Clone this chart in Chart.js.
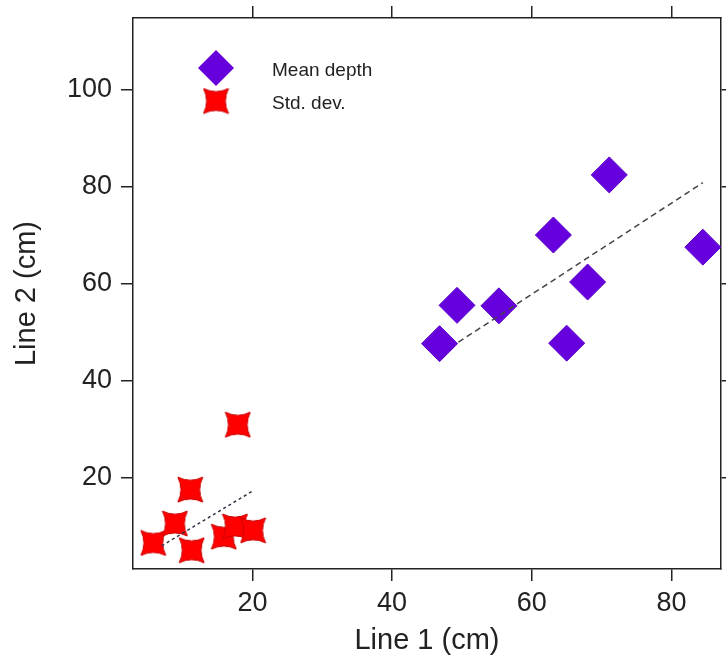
<!DOCTYPE html>
<html>
<head>
<meta charset="utf-8">
<title>Line 1 vs Line 2</title>
<script src="https://cdn.jsdelivr.net/npm/chart.js@4.4.0/dist/chart.umd.min.js"></script>
<style>
    body { margin: 0; background: #fff; }
    canvas { display: block; }
</style>
</head>
<body>
<canvas id="depth-scatter" width="726" height="659"></canvas>
<script>
// Mean depth (diamonds)
const meanX = [46.8, 49.3, 55.3, 63.1, 65.0, 68.0, 71.1, 84.5];
const meanY = [47.6, 55.5, 55.4, 70.0, 47.7, 60.3, 82.4, 67.5];

// Std. dev. (stars)
const stdX = [5.8, 8.9, 11.1, 11.3, 15.9, 17.5, 17.9, 20.1];
const stdY = [6.5, 10.5, 17.5, 5.0, 7.8, 9.9, 30.9, 9.1];

// fitted lines, end points
const meanFitX = [49.5, 84.5];
const meanFitY = [47.9, 80.8];
const stdFitX = [7.0, 19.9];
const stdFitY = [5.9, 17.1];

const xTicks = [20, 40, 60, 80];
const yTicks = [20, 40, 60, 80, 100];
const xRange = [2.9, 87.1];
const yRange = [1.13, 114.75];

const FONT = "'Liberation Sans', Arial, Helvetica, sans-serif";
const INK = "#222";

function toPoints(xs, ys) {
    return xs.map((x, i) => ({ x: x, y: ys[i] }));
}

// four-pointed star with concave sides
function makeStar(size, color) {
    const c = document.createElement("canvas");
    c.width = size + 2;
    c.height = size + 2;
    const ctx = c.getContext("2d");
    const m = c.width / 2;
    const h = size / 2;
    const k = h * 0.5;
    ctx.translate(m, m);
    ctx.beginPath();
    ctx.moveTo(-h, -h);
    ctx.quadraticCurveTo(0, -k, h, -h);
    ctx.quadraticCurveTo(k, 0, h, h);
    ctx.quadraticCurveTo(0, k, -h, h);
    ctx.quadraticCurveTo(-k, 0, -h, -h);
    ctx.closePath();
    ctx.fillStyle = color;
    ctx.fill();
    ctx.strokeStyle = "#c80000";
    ctx.lineWidth = 1;
    ctx.stroke();
    return c;
}

const star = makeStar(25, "#ff0000");

// legend drawn inside the plot, top left
const innerLegend = {
    id: "innerLegend",
    afterDatasetsDraw(chart) {
        const ctx = chart.ctx;
        const area = chart.chartArea;
        const x = area.left + 83;
        const rows = [
            { y: area.top + 50, label: "Mean depth", ds: chart.data.datasets[2] },
            { y: area.top + 83, label: "Std. dev.", ds: chart.data.datasets[3] }
        ];
        ctx.save();
        rows.forEach((r) => {
            ctx.fillStyle = r.ds.backgroundColor || "#000";
            Chart.helpers.drawPoint(ctx, {
                pointStyle: r.ds.pointStyle,
                radius: r.ds.pointRadius,
                rotation: 0,
                borderWidth: 0
            }, x, r.y);
            ctx.fillStyle = INK;
            ctx.font = "19px " + FONT;
            ctx.textAlign = "left";
            ctx.textBaseline = "middle";
            ctx.fillText(r.label, x + 56, r.y + 3);
        });
        ctx.restore();
    }
};

// fixed box sizes, no extra padding for labels near the ends
function pinSize(s, size) {
    if (s.isHorizontal()) s.height = size; else s.width = size;
    s.paddingTop = 0;
    s.paddingBottom = 0;
    s.paddingLeft = 0;
    s.paddingRight = 0;
}

function frameAxis(position, size) {
    const horizontal = position === "top";
    return {
        type: "linear",
        position: position,
        min: horizontal ? xRange[0] : yRange[0],
        max: horizontal ? xRange[1] : yRange[1],
        afterBuildTicks: (s) => {
            s.ticks = (horizontal ? xTicks : yTicks).map((v) => ({ value: v }));
        },
        afterFit: (s) => pinSize(s, size),
        ticks: { display: false },
        grid: { drawOnChartArea: false, drawTicks: true, tickLength: 12, tickColor: INK, lineWidth: 1.5 },
        border: { display: true, color: INK, width: 1.5 }
    };
}

new Chart(document.getElementById("depth-scatter"), {
    type: "scatter",
    data: {
        datasets: [
            {
                type: "line",
                label: "fit mean",
                data: toPoints(meanFitX, meanFitY),
                borderColor: "#444",
                borderWidth: 1.5,
                borderDash: [6, 4],
                pointRadius: 0,
                fill: false,
                order: 0
            },
            {
                type: "line",
                label: "fit std",
                data: toPoints(stdFitX, stdFitY),
                borderColor: "#334",
                borderWidth: 1.5,
                borderDash: [3, 3],
                pointRadius: 0,
                fill: false,
                order: 0
            },
            {
                label: "Mean depth",
                data: toPoints(meanX, meanY),
                pointStyle: "rectRot",
                pointRadius: 18,
                pointHoverRadius: 18,
                backgroundColor: "#6600dd",
                borderColor: "#5a00c8",
                borderWidth: 1,
                order: 1
            },
            {
                label: "Std. dev.",
                data: toPoints(stdX, stdY),
                pointStyle: star,
                pointRadius: 12,
                backgroundColor: "#ff0000",
                order: 1
            }
        ]
    },
    options: {
        responsive: false,
        animation: false,
        layout: { padding: 0, autoPadding: false },
        plugins: {
            legend: { display: false },
            tooltip: { enabled: false }
        },
        scales: {
            x: {
                type: "linear",
                position: "bottom",
                min: xRange[0],
                max: xRange[1],
                afterBuildTicks: (s) => {
                    s.ticks = xTicks.map((v) => ({ value: v }));
                },
                afterFit: (s) => pinSize(s, 90),
                ticks: { color: INK, padding: 6, font: { family: FONT, size: 27 } },
                grid: { drawOnChartArea: false, drawTicks: true, tickLength: 12, tickColor: INK, lineWidth: 1.5 },
                border: { display: true, color: INK, width: 1.5 },
                title: {
                    display: true,
                    text: "Line 1 (cm)",
                    color: INK,
                    font: { family: FONT, size: 29 },
                    padding: { top: 0, bottom: 1 }
                }
            },
            y: {
                type: "linear",
                position: "left",
                min: yRange[0],
                max: yRange[1],
                afterBuildTicks: (s) => {
                    s.ticks = yTicks.map((v) => ({ value: v }));
                },
                afterFit: (s) => pinSize(s, 133),
                ticks: { color: INK, padding: 9, font: { family: FONT, size: 27 } },
                grid: { drawOnChartArea: false, drawTicks: true, tickLength: 12, tickColor: INK, lineWidth: 1.5 },
                border: { display: true, color: INK, width: 1.5 },
                title: {
                    display: true,
                    text: "Line 2 (cm)",
                    color: INK,
                    font: { family: FONT, size: 29 },
                    padding: { top: 10, bottom: 0 }
                }
            },
            x2: frameAxis("top", 18),
            y2: frameAxis("right", 5)
        }
    },
    plugins: [innerLegend]
});
</script>
</body>
</html>
